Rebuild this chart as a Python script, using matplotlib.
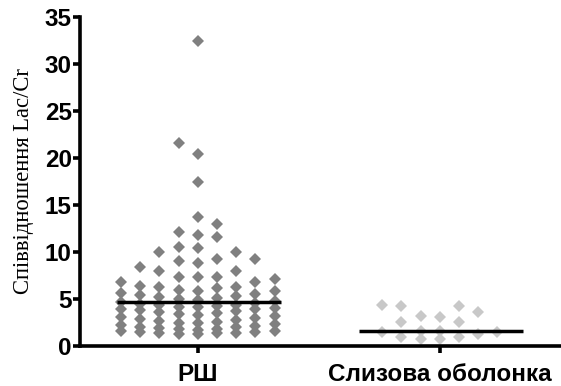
import numpy as np
import matplotlib

matplotlib.use("Agg")
import matplotlib.pyplot as plt

# data
categories = ["РШ", "Слизова оболонка"]
ylabel = "Співвідношення Lac/Cr"

rsh_values = [
    32.4, 21.6, 20.4, 17.4, 13.7, 13.0, 12.1, 11.8, 11.6, 10.5, 10.4, 10.0, 10.0,
    9.3, 9.3, 9.0, 8.8, 8.4, 8.0, 8.0, 7.3, 7.3, 7.3, 7.1, 6.8, 6.8,
    6.4, 6.3, 6.3, 6.2, 6.0, 5.9, 5.8, 5.6, 5.5, 5.4, 5.3, 5.2, 5.1, 5.0, 4.9,
    4.8, 4.7, 4.6,
    4.5, 4.4, 4.4, 4.3, 4.2, 4.1, 4.0, 3.9, 3.9, 3.8, 3.7, 3.6, 3.5, 3.4, 3.3,
    3.2, 3.1, 3.0, 2.9, 2.8, 2.7, 2.6, 2.5, 2.4, 2.3, 2.2, 2.1, 2.0, 2.0, 1.9,
    1.8, 1.8, 1.7, 1.6, 1.6, 1.5, 1.5, 1.4, 1.4, 1.4, 1.3, 1.3,
]
mucosa_values = [
    4.4, 4.3, 4.3, 3.6, 3.2, 3.1, 2.6, 2.6, 1.6, 1.6, 1.5, 1.5, 1.3,
    1.0, 1.0, 0.7, 0.7,
]

colors = ["#808080", "#c8c8c8"]

plt.rcParams.update({
    "font.family": ["Liberation Sans", "DejaVu Sans"],
    "font.weight": "bold",
})


def slot_scatter(ax, xc, values, slot_px, thr_px, max_slot):
    """Prism-like scatter: each point (low to high) takes the free slot nearest
    the centre; slots are half a step apart, when all are taken the least
    crowded one is used."""
    vals = np.sort(np.asarray(values, dtype=float))
    t = ax.transData
    px_x = t.transform([(1, 0)])[0, 0] - t.transform([(0, 0)])[0, 0]
    px_y = t.transform([(0, 1)])[0, 1] - t.transform([(0, 0)])[0, 1]
    cands = np.arange(-max_slot, max_slot + 0.01, 0.5)
    cands = cands[np.argsort(np.abs(cands), kind="stable")]
    placed = []
    for v in vals:
        best, best_score = None, None
        for c in cands:
            score = 0.0
            for pc, pv in placed:
                dy = abs(v - pv) * px_y
                if abs(c - pc) < 1.0 and dy < thr_px:
                    score += (thr_px - dy) * (1.0 - abs(c - pc))
            if best_score is None or score < best_score - 1e-9:
                best, best_score = c, score
            if score == 0:
                break
        placed.append((best, v))
    xs = np.array([xc + c * slot_px / px_x for c, _ in placed])
    ys = np.array([v for _, v in placed])
    return xs, ys


fig = plt.figure(figsize=(5.61, 3.86), dpi=100)
ax = fig.add_axes([0.1426, 0.1036, 0.8574, 0.8523])
ax.set_xlim(-0.487, 1.501)
ax.set_ylim(0, 35)

for i, vals in enumerate([rsh_values, mucosa_values]):
    xs, ys = slot_scatter(ax, i, vals, 19.2, 13.0, 4.0 if i == 0 else 3.0)
    ax.plot(xs, ys, linestyle="none", marker="D", markersize=6.6,
            color=colors[i], markeredgewidth=0, zorder=2)
    med = np.median(vals)
    ax.plot([i - 0.335, i + 0.343], [med, med], color="black", lw=2.5,
            solid_capstyle="butt", zorder=3)

for side in ["top", "right"]:
    ax.spines[side].set_visible(False)
for side in ["left", "bottom"]:
    ax.spines[side].set_linewidth(2.6)

ax.set_yticks(np.arange(0, 36, 5))
ax.set_xticks([0, 1])
ax.set_xticklabels(categories)
ax.tick_params(axis="both", width=2.6, length=5, labelsize=17.5)
ax.tick_params(axis="y", pad=1)
ax.tick_params(axis="x", pad=7)

ax.set_ylabel(ylabel, family=["Liberation Serif", "DejaVu Serif"],
              fontweight="normal", fontsize=16.3, labelpad=8)

fig.savefig("out.png", dpi=100)
